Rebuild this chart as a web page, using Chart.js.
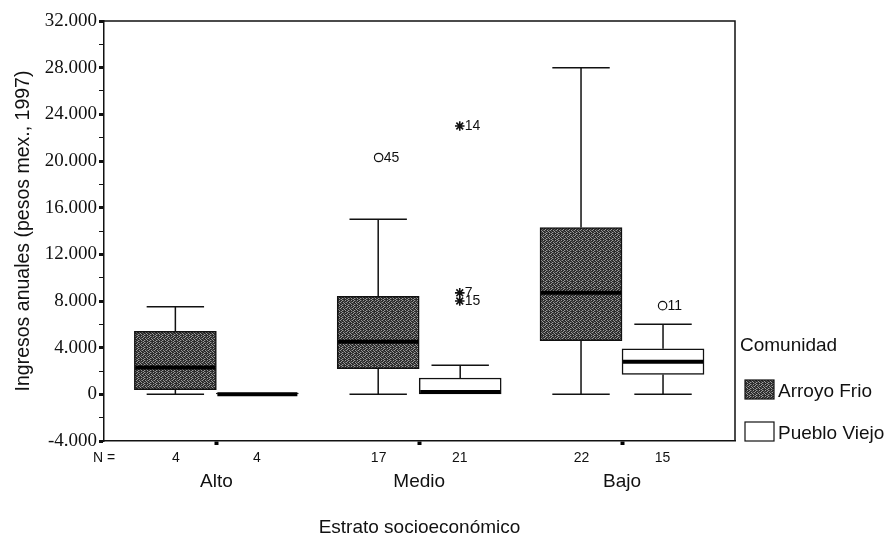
<!DOCTYPE html>
<html>
<head>
<meta charset="utf-8">
<script src="https://cdn.jsdelivr.net/npm/chart.js@4.4.1/dist/chart.umd.min.js"></script>
<style>
  html, body { margin: 0; padding: 0; background: #fff; }
  canvas { display: block; }
</style>
</head>
<body>
<canvas id="chart" width="887" height="535"></canvas>
<script>
// ---- data ----------------------------------------------------------------
const categories = ['Alto', 'Medio', 'Bajo'];
const seriesNames = ['Arroyo Frio', 'Pueblo Viejo'];

// Arroyo Frío: box-plot summaries per stratum
const arroyoN      = [4, 17, 22];
const arroyoMin    = [0, 0, 0];
const arroyoQ1     = [400, 2200, 4600];
const arroyoMedian = [2300, 4500, 8700];
const arroyoQ3     = [5400, 8400, 14300];
const arroyoMax    = [7500, 15000, 28000];

// Pueblo Viejo: box-plot summaries per stratum
const puebloN      = [4, 21, 15];
const puebloMin    = [0, 0, 0];
const puebloQ1     = [0, 0, 1700];
const puebloMedian = [0, 200, 2800];
const puebloQ3     = [100, 1400, 3900];
const puebloMax    = [100, 2500, 6000];

// outliers ('o') and extremes ('*'), with case numbers
const arroyoOutCat   = [1];
const arroyoOutValue = [20300];
const arroyoOutCase  = ['45'];
const arroyoOutKind  = ['o'];

const puebloOutCat   = [1, 1, 1, 2];
const puebloOutValue = [23000, 8700, 8000, 7600];
const puebloOutCase  = ['14', '7', '15', '11'];
const puebloOutKind  = ['*', '*', '*', 'o'];

// axis text
const yTickValues = [-4000, 0, 4000, 8000, 12000, 16000, 20000, 24000, 28000, 32000];
const yTickLabels = ['-4.000', '0', '4.000', '8.000', '12.000', '16.000', '20.000', '24.000', '28.000', '32.000'];
const nLabel = 'N =';
const yTitle = 'Ingresos anuales (pesos mex., 1997)';
const xTitle = 'Estrato socioeconómico';
const legendTitle = 'Comunidad';

// ---- geometry / style ------------------------------------------------------
const X_MIN = -0.554, X_MAX = 2.557;   // category units on a linear axis
const HALF = 0.2;                      // box centre offset from category centre
const BOX_PX = 82;
const SANS = '"Liberation Sans", Arial, Helvetica, sans-serif';
const SERIF = '"Liberation Serif", "Times New Roman", serif';
const INK = '#111';

const canvas = document.getElementById('chart');
const ctx2d = canvas.getContext('2d');

// dark grey stipple fill used for Arroyo Frío boxes
function makeStipple() {
  const t = document.createElement('canvas');
  t.width = 6; t.height = 6;
  const g = t.getContext('2d');
  g.fillStyle = '#2c2c2c';
  g.fillRect(0, 0, 6, 6);
  g.fillStyle = '#9c9c9c';
  [[0,0],[3,0],[5,1],[1,2],[4,2],[2,3],[0,4],[3,4],[5,5]].forEach(([x, y]) => g.fillRect(x, y, 1, 1));
  g.fillStyle = '#5a5a5a';
  [[1,0],[2,1],[3,2],[5,3],[1,4],[4,5]].forEach(([x, y]) => g.fillRect(x, y, 1, 1));
  return ctx2d.createPattern(t, 'repeat');
}
const stipple = makeStipple();

// x-axis ticks: "N =" row, sample sizes under boxes, stratum names at centres
const xTicks = [{ value: X_MIN, kind: 'n', text: nLabel }];
categories.forEach((c, i) => {
  xTicks.push({ value: i - HALF, kind: 'n', text: String(arroyoN[i]) });
  xTicks.push({ value: i, kind: 'cat', text: ['', c] });
  xTicks.push({ value: i + HALF, kind: 'n', text: String(puebloN[i]) });
});

function boxDataset(label, q1, q3, min, med, max, fill) {
  return {
    type: 'bar',
    label,
    data: categories.map((_, i) => ({ x: i, y: [q1[i], q3[i]] })),
    backgroundColor: fill,
    borderColor: INK,
    borderWidth: 1.5,
    borderSkipped: false,
    barThickness: BOX_PX,
    whisker: { min, med, max }
  };
}

function outlierDataset(label, cats, values, cases, kinds, shift) {
  return {
    type: 'scatter',
    label,
    data: cats.map((c, i) => ({ x: c + shift, y: values[i] })),
    pointStyle: kinds.map(k => (k === 'o' ? 'circle' : 'star')),
    pointRadius: kinds.map(k => (k === 'o' ? 4.2 : 4.8)),
    backgroundColor: '#fff',
    borderColor: INK,
    borderWidth: kinds.map(k => (k === 'o' ? 1.2 : 1.6)),
    cases
  };
}

// whiskers, caps and medians drawn from each box element
const boxPlotParts = {
  id: 'boxPlotParts',
  beforeDatasetsDraw(chart) {
    const { ctx, scales: { y } } = chart;
    chart.data.datasets.forEach((ds, di) => {
      if (!ds.whisker) return;
      const meta = chart.getDatasetMeta(di);
      meta.data.forEach((el, i) => {
        const [q1, q3] = ds.data[i].y;
        const cap = el.width * 0.7;
        ctx.save();
        ctx.strokeStyle = INK;
        ctx.lineWidth = 1.5;
        const segs = [[ds.whisker.max[i], q3], [ds.whisker.min[i], q1]];
        segs.forEach(([end, edge]) => {
          if (end === edge) return;
          const ye = y.getPixelForValue(end);
          const yb = y.getPixelForValue(edge);
          ctx.beginPath();
          ctx.moveTo(el.x, ye); ctx.lineTo(el.x, yb);
          ctx.moveTo(el.x - cap / 2, ye); ctx.lineTo(el.x + cap / 2, ye);
          ctx.stroke();
        });
        ctx.restore();
      });
    });
  },
  afterDatasetsDraw(chart) {
    const { ctx, scales: { y } } = chart;
    chart.data.datasets.forEach((ds, di) => {
      if (ds.whisker) {
        const meta = chart.getDatasetMeta(di);
        meta.data.forEach((el, i) => {
          const ym = y.getPixelForValue(ds.whisker.med[i]);
          ctx.save();
          ctx.strokeStyle = '#000';
          ctx.lineWidth = 4;
          ctx.beginPath();
          ctx.moveTo(el.x - el.width / 2 + 1, ym);
          ctx.lineTo(el.x + el.width / 2 - 1, ym);
          ctx.stroke();
          ctx.restore();
        });
      }
      if (ds.cases) {
        const meta = chart.getDatasetMeta(di);
        ctx.save();
        ctx.fillStyle = INK;
        ctx.font = '14px ' + SANS;
        ctx.textBaseline = 'middle';
        ctx.textAlign = 'left';
        meta.data.forEach((el, i) => {
          ctx.fillText(ds.cases[i], el.x + 5, el.y + 0.5);
        });
        ctx.restore();
      }
    });
  }
};

// plot frame and the community legend at the right
const frameAndLegend = {
  id: 'frameAndLegend',
  afterDraw(chart) {
    const { ctx, chartArea: ca } = chart;
    ctx.save();
    ctx.strokeStyle = INK;
    ctx.lineWidth = 1.5;
    ctx.beginPath();
    ctx.moveTo(ca.left, ca.top);
    ctx.lineTo(ca.right, ca.top);
    ctx.lineTo(ca.right, ca.bottom);
    ctx.stroke();

    ctx.fillStyle = INK;
    ctx.font = '19px ' + SANS;
    ctx.textBaseline = 'middle';
    ctx.textAlign = 'left';
    ctx.fillText(legendTitle, ca.right + 5, ca.bottom - 95);

    const boxes = chart.data.datasets.filter(d => d.whisker);
    boxes.forEach((ds, i) => {
      const top = ca.bottom - 61 + i * 42;
      const left = ca.right + 10;
      ctx.fillStyle = ds.backgroundColor;
      ctx.fillRect(left, top, 29, 19);
      ctx.lineWidth = 1.2;
      ctx.strokeRect(left, top, 29, 19);
      ctx.fillStyle = INK;
      ctx.font = '19px ' + SANS;
      ctx.fillText(ds.label, left + 33, top + 12);
    });
    ctx.restore();
  }
};

new Chart(canvas, {
  data: {
    datasets: [
      boxDataset(seriesNames[0], arroyoQ1, arroyoQ3, arroyoMin, arroyoMedian, arroyoMax, stipple),
      boxDataset(seriesNames[1], puebloQ1, puebloQ3, puebloMin, puebloMedian, puebloMax, '#ffffff'),
      outlierDataset('Arroyo Frio (atípicos)', arroyoOutCat, arroyoOutValue, arroyoOutCase, arroyoOutKind, -HALF),
      outlierDataset('Pueblo Viejo (atípicos)', puebloOutCat, puebloOutValue, puebloOutCase, puebloOutKind, HALF)
    ]
  },
  options: {
    responsive: false,
    animation: false,
    layout: { padding: { top: 21, right: 152, bottom: 0, left: 0 } },
    plugins: { legend: { display: false }, tooltip: { enabled: false } },
    scales: {
      x: {
        type: 'linear',
        min: X_MIN,
        max: X_MAX,
        offset: false,
        afterBuildTicks: s => { s.ticks = xTicks.map(t => ({ ...t })); },
        afterFit: s => { s.height = 94; },
        ticks: {
          autoSkip: false,
          maxRotation: 0,
          minRotation: 0,
          padding: 5,
          color: INK,
          callback: (v, i, ticks) => ticks[i].text,
          font: c => (c.tick && c.tick.kind === 'cat'
            ? { family: SANS, size: 19, lineHeight: 1.12 }
            : { family: SANS, size: 14, lineHeight: 1.2 })
        },
        grid: {
          offset: false,
          drawOnChartArea: false,
          drawTicks: true,
          tickLength: 4,
          tickWidth: 4,
          tickColor: c => (c.tick && c.tick.kind === 'cat' ? '#000' : 'rgba(0,0,0,0)'),
          color: 'rgba(0,0,0,0)'
        },
        border: { display: true, color: INK, width: 1.5 },
        title: {
          display: true,
          text: xTitle,
          color: INK,
          font: { family: SANS, size: 19, lineHeight: 0.75 },
          padding: 0
        }
      },
      y: {
        type: 'linear',
        min: -4000,
        max: 32000,
        afterFit: s => { s.width = 104; },
        ticks: {
          stepSize: 2000,
          autoSkip: false,
          padding: 2,
          color: INK,
          font: { family: SERIF, size: 19 },
          callback: v => {
            const k = yTickValues.indexOf(v);
            return k >= 0 ? yTickLabels[k] : '';
          }
        },
        grid: {
          drawOnChartArea: false,
          drawTicks: true,
          tickLength: 5,
          tickWidth: c => (c.tick && yTickValues.includes(c.tick.value) ? 3 : 1),
          tickColor: INK,
          color: 'rgba(0,0,0,0)'
        },
        border: { display: true, color: INK, width: 1.5 },
        title: {
          display: true,
          text: yTitle,
          color: INK,
          font: { family: SANS, size: 19.5, lineHeight: 1.2 },
          padding: { top: 12, bottom: 0 }
        }
      }
    }
  },
  plugins: [boxPlotParts, frameAndLegend]
});
</script>
</body>
</html>
